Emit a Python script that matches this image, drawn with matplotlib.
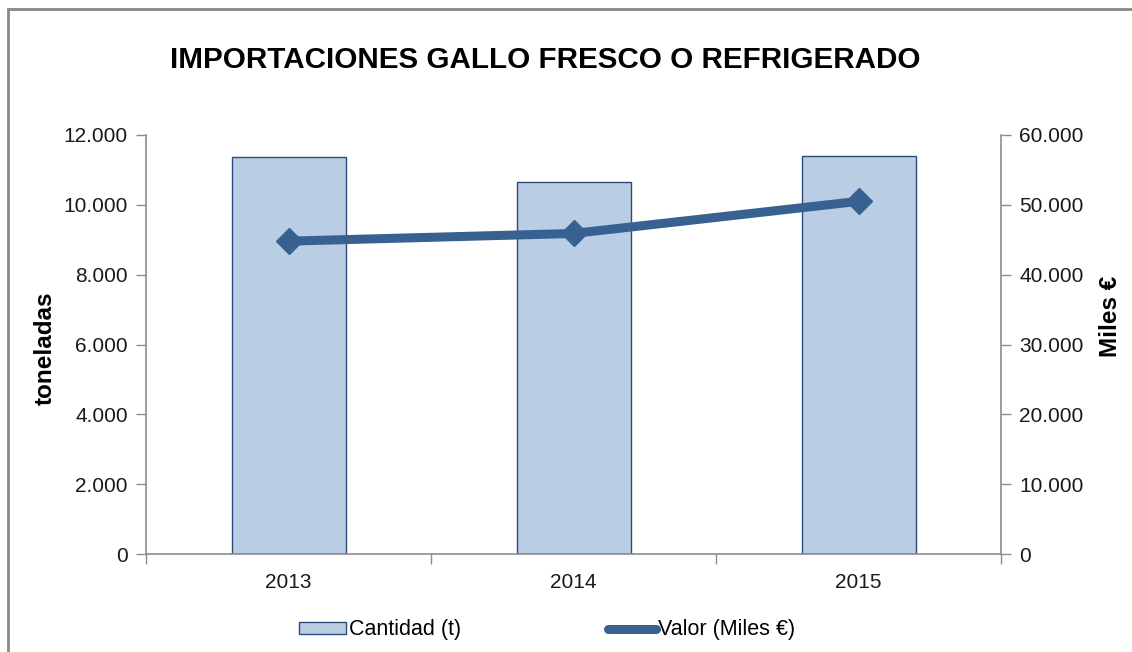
import matplotlib.pyplot as plt
from matplotlib.lines import Line2D
from matplotlib.patches import Rectangle
from matplotlib.ticker import FuncFormatter, FixedLocator

plt.rcParams['font.family'] = ['Liberation Sans', 'DejaVu Sans']

# DATA
years = ["2013", "2014", "2015"]
cantidad_t = [11370, 10650, 11410]
valor_miles_eur = [44800, 45900, 50500]

BAR_FACE = "#b9cde5"
BAR_EDGE = "#2c4a74"
LINE_COLOR = "#386192"
AXIS_GRAY = "#8c8c8c"


def miles(v, pos):
    return f"{int(round(v)):,}".replace(",", ".")


fig = plt.figure(figsize=(11.32, 6.52), dpi=100)
ax = fig.add_axes([146 / 1132, 98 / 652, 855 / 1132, 419 / 652])

x = list(range(len(years)))
ax.bar(x, cantidad_t, width=0.40, color=BAR_FACE, edgecolor=BAR_EDGE, linewidth=1.0, zorder=2)
ax.set_xlim(-0.5, len(years) - 0.5)
ax.set_ylim(0, 12000)
ax.set_yticks(range(0, 12001, 2000))
ax.yaxis.set_major_formatter(FuncFormatter(miles))

ax.set_xticks(x)
ax.set_xticklabels(years)
ax.xaxis.set_minor_locator(FixedLocator([-0.5, 0.5, 1.5, 2.5]))
ax.tick_params(axis='x', which='major', length=0, pad=14, labelsize=15, colors='#1a1a1a')
ax.tick_params(axis='x', which='minor', length=7, width=1, color=AXIS_GRAY, direction='out')
ax.tick_params(axis='y', length=7, width=1, color=AXIS_GRAY, direction='out', pad=6,
               labelsize=15, labelcolor='#1a1a1a')

for side in ['top', 'right']:
    ax.spines[side].set_visible(False)
for side in ['left', 'bottom']:
    ax.spines[side].set_color(AXIS_GRAY)
    ax.spines[side].set_linewidth(1.2)

ax.set_ylabel("toneladas", fontsize=17.5, fontweight='bold')
ax.yaxis.set_label_coords(-0.104, 0.49)

# second axis for value
ax2 = ax.twinx()
ax2.plot(x, valor_miles_eur, color=LINE_COLOR, linewidth=6.5, marker='D', markersize=13,
         solid_capstyle='round', zorder=3)
ax2.set_ylim(0, 60000)
ax2.set_yticks(range(0, 60001, 10000))
ax2.yaxis.set_major_formatter(FuncFormatter(miles))
ax2.tick_params(axis='y', length=7, width=1, color=AXIS_GRAY, direction='out', pad=6,
                labelsize=15, labelcolor='#1a1a1a')
for side in ['top', 'left', 'bottom']:
    ax2.spines[side].set_visible(False)
ax2.spines['right'].set_color(AXIS_GRAY)
ax2.spines['right'].set_linewidth(1.2)
ax2.set_ylabel("Miles €", fontsize=17.5, fontweight='bold', rotation=90)
ax2.yaxis.set_label_coords(1.1145, 0.566)

fig.text(545 / 1132, 1 - 60 / 652, "IMPORTACIONES GALLO FRESCO O REFRIGERADO",
         ha='center', va='center', fontsize=21.3, fontweight='bold')

# chart frame
fig.patches.append(Rectangle((8 / 1132, -0.05), 1.2, 1 - 9 / 652 + 0.05, transform=fig.transFigure,
                             fill=False, edgecolor='#888888', linewidth=2))

legend_elements = [
    Rectangle((0, 0), 1, 1, facecolor=BAR_FACE, edgecolor=BAR_EDGE, linewidth=1.0, label="Cantidad (t)"),
    Line2D([0], [0], color=LINE_COLOR, linewidth=6.5, marker='D', markersize=4,
           solid_capstyle='round', label="Valor (Miles €)"),
]
fig.legend(handles=legend_elements, loc='center', bbox_to_anchor=(547 / 1132, 1 - 630 / 652), ncol=2,
           frameon=False, fontsize=15.5, handlelength=2.2, handleheight=0.45, handletextpad=0.1,
           columnspacing=6.85)

fig.savefig("out.png", dpi=100)
